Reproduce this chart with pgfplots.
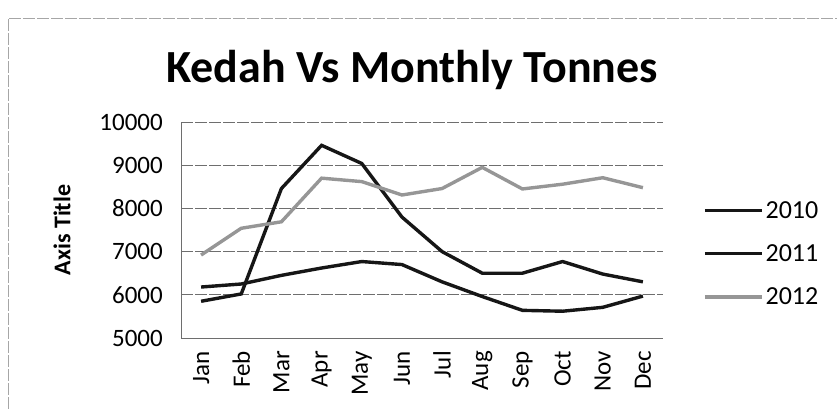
\documentclass[border=0pt]{standalone}
\usepackage{pgfplots}
\pgfplotsset{compat=1.18}
\usepackage{fontspec}
\setmainfont{Carlito}
\definecolor{blk}{RGB}{22,22,22}
\definecolor{gry}{RGB}{150,150,150}
\definecolor{gridc}{RGB}{110,110,110}
\pgfplotstableread{
x y2010 y2011 y2012
0 5850 6180 6920
1 6020 6250 7540
2 8460 6450 7690
3 9460 6620 8700
4 9040 6770 8620
5 7800 6700 8310
6 7000 6300 8460
7 6500 5960 8950
8 6500 5640 8450
9 6770 5620 8560
10 6480 5710 8710
11 6300 5970 8480
}\data
\begin{document}
\begin{tikzpicture}
\useasboundingbox (0,0) rectangle (837bp,409bp);
\draw[gray!70, line width=0.8bp, dash pattern=on 12bp off 2bp] (8bp,0) -- (8bp,391bp) -- (837bp,391bp);
\node[font=\fontsize{46bp}{50bp}\selectfont\bfseries] at (412bp,339bp) {Kedah Vs Monthly Tonnes};
\begin{axis}[
  at={(181bp,71bp)}, anchor=south west,
  width=482bp, height=216bp, scale only axis,
  xmin=-0.5, xmax=11.5, ymin=5000, ymax=10000,
  scaled y ticks=false,
  xtick={0,...,11},
  xticklabels={Jan,Feb,Mar,Apr,May,Jun,Jul,Aug,Sep,Oct,Nov,Dec},
  ytick={5000,6000,7000,8000,9000,10000},
  yticklabels={5000,6000,7000,8000,9000,10000},
  axis x line*=bottom, axis y line*=left,
  axis line style={-, draw=gridc, line width=0.8bp},
  major tick length=0pt,
  ymajorgrids,
  major grid style={draw=gridc, line width=0.8bp, dash pattern=on 12bp off 2bp},
  tick label style={font=\fontsize{25bp}{30bp}\selectfont},
  xticklabel style={rotate=90, anchor=east, inner sep=0pt},
  xticklabel shift=13bp,
  yticklabel style={anchor=east, inner sep=0pt},
  yticklabel shift=18bp,
  ylabel={Axis Title},
  ylabel style={at={(axis description cs:-0.247,0.5)}, anchor=center, rotate=0, font=\fontsize{24bp}{28bp}\selectfont\bfseries},
  legend cell align=left,
  legend style={draw=none, fill=none, at={(axis description cs:1.083,0.39)}, anchor=west,
    font=\fontsize{26bp}{30bp}\selectfont, row sep=21bp, inner sep=0pt,
    nodes={inner sep=2bp}},
  legend image code/.code={\draw[#1, line width=3.4bp] (0bp,0bp) -- (57bp,0bp);},
]
\addplot[blk, line width=3.4bp] table[x=x, y=y2010] {\data};
\addlegendentry{2010}
\addplot[blk, line width=3.4bp] table[x=x, y=y2011] {\data};
\addlegendentry{2011}
\addplot[gry, line width=3.4bp] table[x=x, y=y2012] {\data};
\addlegendentry{2012}
\end{axis}
\end{tikzpicture}
\end{document}
